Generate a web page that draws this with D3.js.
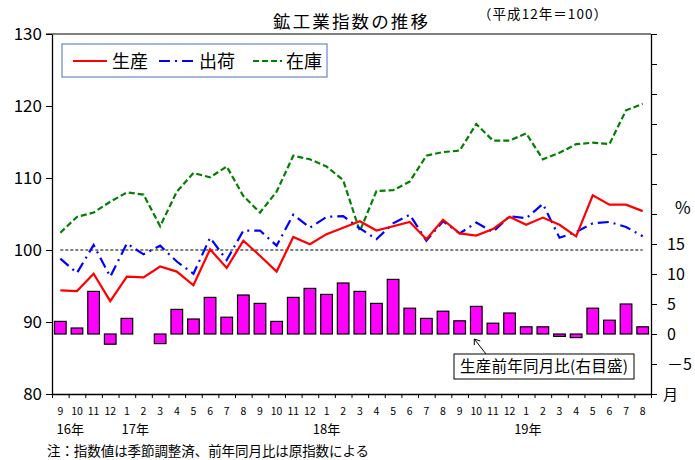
<!DOCTYPE html>
<html>
<head>
<meta charset="utf-8">
<script src="https://cdn.jsdelivr.net/npm/d3@7"></script>
<style>
  body { margin: 0; background: #fff; }
  text { font-family: "Noto Sans CJK JP", "DejaVu Sans", sans-serif; fill: #000; }
</style>
</head>
<body>
<svg width="695" height="460"></svg>
<script>
const svgWidth = 695;
const svgHeight = 460;

// data (平成12年=100), Sep 2004 (16年9月) .. Aug 2007 (19年8月)
const months = [9, 10, 11, 12, 1, 2, 3, 4, 5, 6, 7, 8,
                9, 10, 11, 12, 1, 2, 3, 4, 5, 6, 7, 8,
                9, 10, 11, 12, 1, 2, 3, 4, 5, 6, 7, 8];
const yearLabels = [
  { label: "16年", at: 0.6 },
  { label: "17年", at: 4.5 },
  { label: "18年", at: 16 },
  { label: "19年", at: 28.1 },
];
const production = [94.4, 94.3, 96.7, 92.9, 96.3, 96.2, 97.7, 97.0, 95.1, 100.1, 97.5, 101.3,
                    99.2, 97.0, 101.8, 100.8, 102.2, 103.1, 104.0, 102.7, 103.3, 103.9, 101.5, 104.2,
                    102.3, 102.0, 102.9, 104.6, 103.5, 104.5, 103.5, 101.9, 107.6, 106.3, 106.3, 105.4];
const shipments = [98.8, 96.8, 100.7, 96.3, 100.9, 99.4, 100.6, 98.4, 96.7, 101.7, 98.6, 102.7,
                   102.7, 100.6, 104.9, 103.1, 104.6, 104.7, 103.0, 101.5, 103.7, 104.9, 101.3, 104.0,
                   102.3, 103.8, 102.5, 104.7, 104.4, 106.4, 101.7, 102.5, 103.7, 103.9, 103.2, 101.9];
const inventory = [102.4, 104.6, 105.2, 106.7, 108.0, 107.7, 103.3, 108.1, 110.7, 110.1, 111.6, 107.5,
                   105.2, 108.1, 113.1, 112.6, 111.6, 109.7, 102.6, 108.2, 108.3, 109.5, 113.1, 113.6,
                   113.8, 117.5, 115.2, 115.2, 116.2, 112.6, 113.5, 114.7, 114.9, 114.7, 119.4, 120.3];
const prodYoY = [2.1, 1.0, 7.1, -1.7, 2.6, 0, -1.6, 4.1, 2.5, 6.1, 2.8, 6.5,
                 5.1, 2.1, 6.1, 7.6, 6.6, 8.5, 7.1, 5.1, 9.1, 4.3, 2.6, 3.8,
                 2.2, 4.6, 1.8, 3.5, 1.2, 1.2, -0.4, -0.6, 4.3, 2.3, 5.0, 1.2];
const leftTicks = [80, 90, 100, 110, 120, 130];
const rightTicks = [-10, -5, 0, 5, 10, 15, 20, 25, 30, 35, 40, 45, 50];
const rightLabelled = [-5, 0, 5, 10, 15];

const svg = d3.select("svg");

const margin = { left: 52, right: 44, top: 34, bottom: 66 };
const chartWidth = svgWidth - margin.left - margin.right;
const chartHeight = svgHeight - margin.top - margin.bottom;

const chartGroup = svg
  .append("g")
  .attr("transform", `translate(${margin.left}, ${margin.top})`);

const idx = d3.range(months.length);
const xBand = d3.scaleBand().domain(idx).range([0, chartWidth]).paddingInner(0.3).paddingOuter(0.15);
const xCenter = (i) => xBand(i) + xBand.bandwidth() / 2;
const xLin = d3.scaleLinear().domain([0, months.length]).range([0, chartWidth]);
const yLeft = d3.scaleLinear().domain([80, 130]).range([chartHeight, 0]);
const yRight = d3.scaleLinear().domain([-10, 50]).range([chartHeight, 0]);

// frame top
chartGroup.append("line")
  .attr("x1", -6).attr("x2", chartWidth).attr("y1", 0).attr("y2", 0)
  .attr("stroke", "#000");

// bars (right axis)
chartGroup.append("g")
  .selectAll("rect")
  .data(prodYoY)
  .join("rect")
  .attr("x", (d, i) => xBand(i))
  .attr("width", xBand.bandwidth())
  .attr("y", (d) => yRight(Math.max(0, d)))
  .attr("height", (d) => Math.abs(yRight(d) - yRight(0)))
  .attr("fill", "#ff00ff")
  .attr("stroke", (d) => (d === 0 ? "none" : "#000"))
  .attr("stroke-width", 1.2);

// 100 reference line
chartGroup.append("line")
  .attr("x1", xCenter(0)).attr("x2", xCenter(months.length - 1))
  .attr("y1", yLeft(100)).attr("y2", yLeft(100))
  .attr("stroke", "#000").attr("stroke-width", 1).attr("stroke-dasharray", "3,2");

const line = d3.line().x((d, i) => xCenter(i)).y((d) => yLeft(d));

const series = [
  { name: "生産", values: production, color: "#ff0000", dash: null },
  { name: "出荷", values: shipments, color: "#0000ff", dash: "11,5,2,5" },
  { name: "在庫", values: inventory, color: "#008000", dash: "6,3" },
];

// draw inventory, shipments, production so red stays on top
series.slice().reverse().forEach((s) => {
  chartGroup.append("path")
    .datum(s.values)
    .attr("d", line)
    .attr("fill", "none")
    .attr("stroke", s.color)
    .attr("stroke-width", 2.2)
    .attr("stroke-dasharray", s.dash);
});

// axes
const leftAxis = chartGroup.append("g")
  .call(d3.axisLeft(yLeft).tickValues(leftTicks).tickSize(6).tickSizeOuter(0).tickPadding(4));
leftAxis.selectAll("text").style("font-size", "17px").attr("font-family", "DejaVu Sans");

const rightAxis = chartGroup.append("g")
  .attr("transform", `translate(${chartWidth}, 0)`)
  .call(d3.axisRight(yRight).tickValues(rightTicks).tickSize(6).tickSizeOuter(0).tickPadding(10)
    .tickFormat((d) => (rightLabelled.includes(d) ? (d < 0 ? "－" + Math.abs(d) : d) : "")));
rightAxis.selectAll("text").style("font-size", "16px").attr("font-family", "DejaVu Sans");

const bottomAxis = chartGroup.append("g")
  .attr("transform", `translate(0, ${chartHeight})`)
  .call(d3.axisBottom(xLin).tickValues(d3.range(0, months.length + 1)).tickSize(4).tickSizeOuter(0).tickFormat(""));

svg.selectAll(".domain").attr("stroke", "#000").attr("stroke-width", 1.3);
svg.selectAll(".tick line").attr("stroke", "#000");

// month labels
chartGroup.append("g")
  .selectAll("text")
  .data(months)
  .join("text")
  .attr("x", (d, i) => xCenter(i))
  .attr("y", chartHeight + 21)
  .attr("text-anchor", "middle")
  .attr("font-family", "DejaVu Sans Condensed")
  .style("font-size", "10.5px")
  .text((d) => d);

// year labels
chartGroup.append("g")
  .selectAll("text")
  .data(yearLabels)
  .join("text")
  .attr("x", (d) => xLin(d.at + 0.5))
  .attr("y", chartHeight + 40)
  .attr("text-anchor", "middle")
  .style("font-size", "13px")
  .text((d) => d.label);

// 月 and %
chartGroup.append("text")
  .attr("x", chartWidth + 12).attr("y", chartHeight + 6)
  .style("font-size", "15px").text("月");
chartGroup.append("text")
  .attr("x", chartWidth + 24).attr("y", yRight(21) + 6)
  .style("font-size", "17px").text("%");

// title
svg.append("text")
  .attr("x", 273).attr("y", 28)
  .attr("textLength", 155).attr("lengthAdjust", "spacing")
  .style("font-size", "17.5px")
  .text("鉱工業指数の推移");
svg.append("text")
  .attr("x", 478).attr("y", 19)
  .attr("textLength", 129).attr("lengthAdjust", "spacing")
  .style("font-size", "13.5px")
  .text("（平成12年＝100）");

// legend
const legend = svg.append("g");
legend.append("rect")
  .attr("x", 62).attr("y", 44).attr("width", 265).attr("height", 33)
  .attr("fill", "#fff").attr("stroke", "#4a72b8").attr("stroke-width", 1);
const legendPos = [
  { lx: 73, len: 34, tx: 112 },
  { lx: 159, len: 36, tx: 199 },
  { lx: 253, len: 29, tx: 286 },
];
series.forEach((s, i) => {
  const p = legendPos[i];
  legend.append("line")
    .attr("x1", p.lx).attr("x2", p.lx + p.len).attr("y1", 61).attr("y2", 61)
    .attr("stroke", s.color).attr("stroke-width", 2.2)
    .attr("stroke-dasharray", s.dash);
  legend.append("text")
    .attr("x", p.tx).attr("y", 68)
    .style("font-size", "18px")
    .text(s.name);
});

// annotation
const noteIdx = 25;
const noteGroup = svg.append("g");
noteGroup.append("rect")
  .attr("x", 454).attr("y", 354).attr("width", 180).attr("height", 25)
  .attr("fill", "#fff").attr("stroke", "#000").attr("stroke-width", 1);
noteGroup.append("text")
  .attr("x", 544).attr("y", 372)
  .attr("text-anchor", "middle")
  .attr("textLength", 168).attr("lengthAdjust", "spacing")
  .style("font-size", "15.5px")
  .text("生産前年同月比(右目盛)");
const ax = margin.left + xCenter(noteIdx) - 2;
const ay = margin.top + yRight(0) + 5;
noteGroup.append("line")
  .attr("x1", 486).attr("y1", 354).attr("x2", ax).attr("y2", ay)
  .attr("stroke", "#000").attr("stroke-width", 1);
noteGroup.append("path")
  .attr("d", `M${ax},${ay} l0,6 M${ax},${ay} l6,2`)
  .attr("stroke", "#000").attr("fill", "none");

// footnote
svg.append("text")
  .attr("x", 47).attr("y", 456)
  .attr("textLength", 322).attr("lengthAdjust", "spacing")
  .style("font-size", "13.5px")
  .text("注：指数値は季節調整済、前年同月比は原指数による");
</script>
</body>
</html>
